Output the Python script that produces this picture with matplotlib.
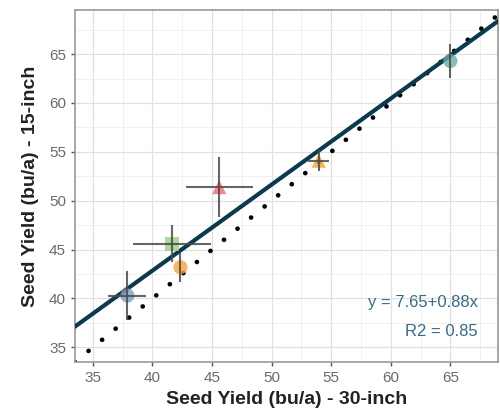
import matplotlib
matplotlib.use("Agg")
import matplotlib.pyplot as plt
import numpy as np
from matplotlib.ticker import MultipleLocator

plt.rcParams['font.family'] = ['Liberation Sans', 'DejaVu Sans']

# Data
x30 = [37.9, 41.65, 42.35, 45.6, 53.95, 65.0]
y15 = [40.3, 45.6, 43.2, 51.4, 54.1, 64.3]
xerr = [1.6, 3.3, 0.0, 2.8, 0.9, 0.0]
yerr = [2.5, 1.9, 1.5, 3.1, 1.1, 1.7]
colors = ['#7f9fc0', '#9ccf7c', '#f5a63a', '#f06a78', '#f0a530', '#6aaba5']
markers = ['o', 's', 'o', '^', '^', 'o']
intercept, slope = 7.65, 0.88
eq_text = "y = 7.65+0.88x"
r2_text = "R2 = 0.85"
xticks = [35, 40, 45, 50, 55, 60, 65]
yticks = [35, 40, 45, 50, 55, 60, 65]

fig = plt.figure(figsize=(5, 4.2), dpi=100)
ax = fig.add_axes([0.15, 0.138, 0.846, 0.838])
xlim = (33.5, 69.0)
ylim = (33.5, 69.5)

ax.set_xlim(*xlim)
ax.set_ylim(*ylim)
ax.set_xticks(xticks)
ax.set_yticks(yticks)
ax.xaxis.set_minor_locator(MultipleLocator(2.5))
ax.yaxis.set_minor_locator(MultipleLocator(2.5))
ax.grid(True, which='major', color='#e0e0e0', linewidth=0.9, zorder=0)
ax.grid(True, which='minor', color='#eeeeee', linewidth=0.6, zorder=0)
ax.set_axisbelow(True)
for s in ax.spines.values():
    s.set_color('#9a9a9a')
    s.set_linewidth(1.2)
ax.tick_params(axis='both', which='major', colors='#555555', labelsize=11,
               length=3, width=1, labelcolor='#6a6a6a')
ax.tick_params(axis='both', which='minor', length=0)

# identity line dotted
xs = np.array([33.5, 70.0])
ax.plot(xs, xs, color='black', linewidth=3.4, linestyle=(0, (0.01, 3.7)),
        dash_capstyle='round', zorder=2)

# regression line
xr = np.array([xlim[0], xlim[1]])
ax.plot(xr, intercept + slope * xr, color='#0b3a4f', linewidth=3.0, zorder=3)

for xi, yi, xe, ye, c, m in zip(x30, y15, xerr, yerr, colors, markers):
    ax.scatter([xi], [yi], s=105, color=c, marker=m, alpha=0.8, edgecolors='none', zorder=4)
    ax.errorbar([xi], [yi], xerr=[xe] if xe > 0 else None, yerr=[ye], fmt='none',
                ecolor='#4a4a4a', elinewidth=1.5, capsize=0, alpha=0.85, zorder=5)

ax.text(67.3, 39.6, eq_text, ha='right', va='center', color='#3a6a85', fontsize=12)
ax.text(67.3, 36.6, r2_text, ha='right', va='center', color='#3a6a85', fontsize=12)

ax.set_xlabel("Seed Yield (bu/a) - 30-inch", fontsize=14, fontweight='bold', color='#222222', labelpad=4)
ax.set_ylabel("Seed Yield (bu/a) - 15-inch", fontsize=14, fontweight='bold', color='#222222', labelpad=7)

fig.savefig("out.png", dpi=100)
